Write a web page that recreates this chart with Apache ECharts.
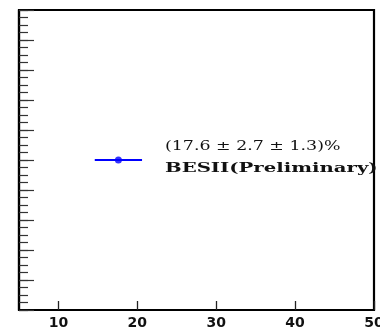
<!DOCTYPE html>
<html><head><meta charset="utf-8">
<script src="https://cdn.jsdelivr.net/npm/echarts@6/dist/echarts.min.js"></script>
<style>html,body{margin:0;padding:0;background:#fff}#c{width:380px;height:330px}</style>
</head><body><div id="c"></div>
<script>
// ---- data ----
const xTickValues = [10, 20, 30, 40, 50];
const measurementX = [17.6];
const measurementY = [0.5];
const statErr = [2.7];
const systErr = [1.3];
const annotationLines = ['(17.6 \u00b1 2.7 \u00b1 1.3)%', 'BESII(Preliminary)'];

// total error (stat and syst combined in quadrature)
const totErr = measurementX.map((v, i) => Math.sqrt(statErr[i] * statErr[i] + systErr[i] * systErr[i]));

const chart = echarts.init(document.getElementById('c'), null, {renderer: 'canvas'});
const blue = '#0000ff';

const yBase = {
  type: 'value', min: 0, max: 1, position: 'left', offset: 0,
  axisLabel: {show: false},
  splitLine: {show: false}
};

chart.setOption({
  animation: false,
  backgroundColor: '#fff',
  grid: {left: 19, right: 6, top: 10, bottom: 20, show: true, borderColor: '#000', borderWidth: 2.2,
         containLabel: false, outerBoundsMode: 'none'},
  xAxis: {
    type: 'value', min: 5, max: 50,
    axisLine: {show: true, lineStyle: {color: '#000', width: 2.2}},
    axisTick: {show: true, inside: true, length: 9, customValues: xTickValues, lineStyle: {color: '#222', width: 1.3}},
    axisLabel: {show: true, customValues: xTickValues, margin: 6, color: '#111',
                fontFamily: 'DejaVu Sans', fontWeight: 'bold', fontSize: 14},
    splitLine: {show: false}
  },
  yAxis: [
    Object.assign({}, yBase, {
      interval: 0.025,
      axisLine: {show: true, lineStyle: {color: '#000', width: 2.2}},
      axisTick: {show: true, inside: true, length: 9, lineStyle: {color: '#333', width: 1.2}}
    }),
    Object.assign({}, yBase, {
      interval: 0.1,
      axisLine: {show: false},
      axisTick: {show: true, inside: true, length: 15, lineStyle: {color: '#333', width: 1.2}}
    })
  ],
  series: [
    {
      type: 'line',
      data: measurementX.flatMap((v, i) => [[v - totErr[i], measurementY[i]], [v + totErr[i], measurementY[i]]]),
      showSymbol: false, symbol: 'none',
      lineStyle: {color: blue, width: 2},
      silent: true
    },
    {
      type: 'scatter',
      data: measurementX.map((v, i) => [v, measurementY[i]]),
      symbol: 'circle', symbolSize: 7,
      itemStyle: {color: blue},
      silent: true
    }
  ],
  graphic: [
    {type: 'text', x: 165, y: 147, scaleX: 1.45, z: 1,
     style: {text: annotationLines[0], font: '12px "DejaVu Serif"', fill: '#111', verticalAlign: 'middle', textVerticalAlign: 'middle'}},
    {type: 'text', x: 165, y: 169, scaleX: 1.64, z: 1,
     style: {text: annotationLines[1], font: 'bold 12px "DejaVu Serif"', fill: '#111', verticalAlign: 'middle', textVerticalAlign: 'middle'}}
  ]
});
</script></body></html>
